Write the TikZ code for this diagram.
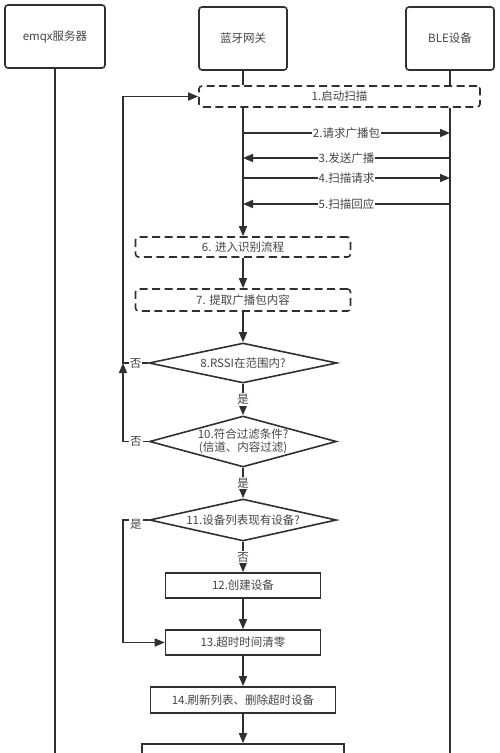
\documentclass[tikz,border=0pt]{standalone}
\usepackage{fontspec}
\setmainfont{Noto Sans CJK SC}
\usetikzlibrary{shapes.geometric, arrows.meta}
\definecolor{ink}{HTML}{303030}
\definecolor{txtgray}{HTML}{444444}

\begin{document}
\begin{tikzpicture} % one unit is one pixel of the reference, y runs downwards
    [x = 1pt, y = -1pt,
      every node/.style={font = \fontsize{11.5}{13}\selectfont, text = txtgray},
      line/.style={draw = ink, line width = 1.6pt},
      arr/.style={line, -{Triangle[length = 10pt, width = 8pt]}},
      head/.style={line, rounded corners = 3pt, minimum width = 88pt, minimum height = 63pt},
      dashbox/.style={line, dash pattern = on 8pt off 4.5pt, rounded corners = 3pt, minimum height = 21pt},
      stepbox/.style={line, minimum height = 25pt},
      decision/.style={line, diamond, inner sep = 0pt},
      lbl/.style={fill = white, inner sep = 1pt}]
    \useasboundingbox (0,0) rectangle (500,753);

    % the three lifelines
    \node[head, minimum width = 100pt] (emqx) at (55,36.5) {emqx服务器};
    \node[head] (gw) at (243,38.5) {蓝牙网关};
    \node[head] (ble) at (450,38.5) {BLE设备};
    \coordinate (bottom) at (0,770);

    \node[dashbox, minimum width = 281pt] (s1) at (339.5,96.5) {1.启动扫描};
    \node[dashbox, minimum width = 215pt, minimum height = 20pt] (s6) at (243,247) {6. 进入识别流程};
    \node[dashbox, minimum width = 215pt, minimum height = 22pt] (s7) at (243,300) {7. 提取广播包内容};
    \node[decision, minimum width = 188pt, minimum height = 40pt,
      label={center:8.RSSI在范围内?}] (d8) at (243,363) {};
    \node[decision, minimum width = 187pt, minimum height = 51pt,
      label={[align = center]center:{10.符合过滤条件?\\(信道、内容过滤)}}] (d10) at (243,441.5) {};
    \node[decision, minimum width = 187pt, minimum height = 42pt,
      label={center:11.设备列表现有设备?}] (d11) at (243,520) {};
    \node[stepbox, minimum width = 155pt] (s12) at (243,585.5) {12.创建设备};
    \node[stepbox, minimum width = 155pt] (s13) at (243,642.5) {13.超时时间清零};
    \node[stepbox, minimum width = 185pt, minimum height = 26pt] (s14) at (243,700) {14.刷新列表、删除超时设备};
    % cut off by the lower edge
    \node[stepbox, minimum width = 202pt, minimum height = 26pt] (s15) at (243,757) {};

    \draw[line] (emqx) -- (emqx |- bottom);
    \draw[line] (gw) -- (gw |- s1.north);
    \draw[line] (ble) -- (ble |- s1.north);
    \draw[line] (ble |- s1.south) -- (ble |- bottom);

    % messages between gateway and device
    \foreach \i/\y in {2/133, 3/158, 4/178, 5/204} {
      \coordinate (gw\i) at (gw |- 0,\y);
      \coordinate (ble\i) at (ble |- 0,\y);
    }
    \draw[arr] (gw2) -- node[lbl] {2.请求广播包} (ble2);
    \draw[arr] (ble3) -- node[lbl] {3.发送广播} (gw3);
    \draw[arr] (gw4) -- node[lbl] {4.扫描请求} (ble4);
    \draw[arr] (ble5) -- node[lbl] {5.扫描回应} (gw5);

    \draw[arr] (gw |- s1.south) -- (s6);
    \draw[arr] (s6) -- (s7);
    \draw[arr] (s7) -- (d8);
    \draw[arr] (d8) -- node[lbl] {是} (d10);
    \draw[arr] (d10) -- node[lbl] {是} (d11);
    \draw[arr] (d11) -- node[lbl] {否} (s12);
    \draw[arr] (s12) -- (s13);
    \draw[arr] (s13) -- (s14);
    \draw[arr] (s14) -- (s15);

    % back to the scan, and the shortcut for known devices
    \coordinate (loopback) at (123,363);
    \draw[arr] (d10.west) -- node[lbl] {否} (d10.west -| loopback) -- (loopback);
    \draw[arr] (d8.west) -- node[lbl] {否} (loopback) |- (s1.west);
    \draw[arr] (d11.west) -- node[lbl, yshift = -4pt] {是} (d11.west -| loopback) |- (s13.west);
\end{tikzpicture}
\end{document}
